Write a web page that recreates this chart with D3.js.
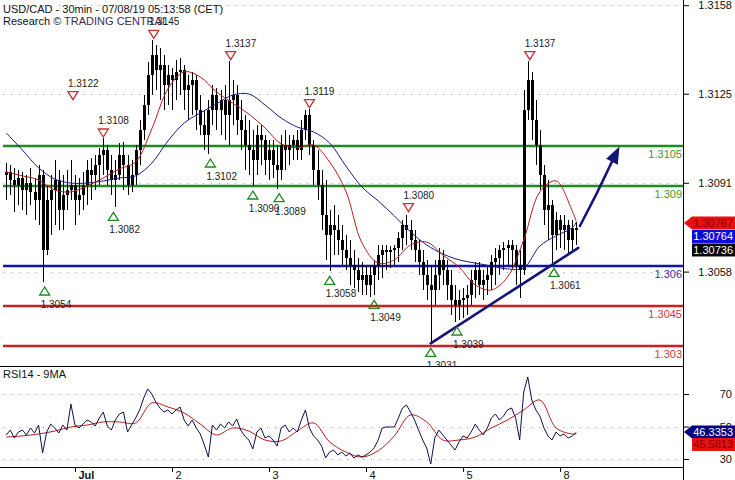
<!DOCTYPE html>
<html><head><meta charset="utf-8">
<script src="https://cdn.jsdelivr.net/npm/d3@7"></script>
<style>
body{margin:0;background:#fff}
svg{display:block}
text{font-family:"Liberation Sans",Arial,sans-serif}
</style>
</head><body>
<svg id="c" width="735" height="480"></svg>
<script>
// ---------- DATA ----------
const firstHour = -17; // hours relative to Jul 1 00:00, hourly bars
const opens = [1.30941,1.30953,1.30923,1.30904,1.30930,1.30885,1.30911,1.30878,1.30848,1.30941,1.30660,1.30848,1.30885,1.30923,1.30810,1.30866,1.30885,
1.30904,1.30848,1.30866,1.30904,1.30960,1.30941,1.30979,1.31016,1.31035,1.30960,1.30923,1.30941,1.31016,1.30979,1.30904,1.30941,1.31035,1.31110,1.31204,1.31316,1.31391,1.31335,1.31354,1.31279,
1.31316,1.31298,1.31328,1.31335,1.31260,1.31279,1.31298,1.31185,1.31129,1.31091,1.31185,1.31241,1.31185,1.31223,1.31166,1.31223,1.31241,1.31148,1.31110,1.31054,1.31035,1.30998,1.31091,1.31073,
1.30998,1.31035,1.30979,1.30960,1.31054,1.31035,1.31054,1.31073,1.31035,1.31110,1.31166,1.31054,1.30960,1.30904,1.30791,1.30716,1.30754,1.30735,1.30698,1.30660,1.30630,1.30604,1.30585,1.30548,
1.30566,1.30529,1.30566,1.30604,1.30641,1.30660,1.30653,1.30660,1.30668,1.30705,1.30754,1.30735,1.30698,1.30660,1.30615,1.30566,1.30529,1.30510,1.30566,1.30623,1.30585,1.30529,1.30473,1.30454,
1.30473,1.30480,1.30491,1.30548,1.30585,1.30529,1.30548,1.30566,1.30615,1.30630,1.30660,1.30668,1.30679,1.30660,1.30604,1.30585,1.31185,1.31298,1.31148,1.31054,1.30941,1.30810,1.30829,1.30716,
1.30773,1.30735,1.30754,1.30698,1.30743];
const highs = [1.30986,1.30979,1.30968,1.30960,1.30953,1.30941,1.30968,1.30930,1.30979,1.30960,1.30904,1.30941,1.30998,1.30960,1.30941,1.30960,1.30998,
1.30941,1.30930,1.30953,1.30998,1.31005,1.31016,1.31043,1.31080,1.31054,1.31016,1.30998,1.31061,1.31065,1.31016,1.30998,1.31054,1.31148,1.31241,1.31365,1.31448,1.31429,1.31418,1.31391,1.31354,
1.31343,1.31373,1.31380,1.31354,1.31316,1.31328,1.31316,1.31241,1.31185,1.31223,1.31279,1.31268,1.31260,1.31279,1.31370,1.31298,1.31279,1.31223,1.31166,1.31148,1.31110,1.31129,1.31129,1.31091,
1.31073,1.31073,1.31054,1.31091,1.31110,1.31091,1.31091,1.31110,1.31148,1.31185,1.31190,1.31073,1.31035,1.30960,1.30923,1.30810,1.30829,1.30791,1.30754,1.30716,1.30698,1.30660,1.30630,1.30615,
1.30604,1.30604,1.30623,1.30679,1.30679,1.30679,1.30675,1.30679,1.30728,1.30773,1.30790,1.30773,1.30735,1.30698,1.30660,1.30623,1.30604,1.30623,1.30668,1.30660,1.30623,1.30585,1.30529,1.30510,
1.30518,1.30529,1.30585,1.30615,1.30615,1.30585,1.30604,1.30641,1.30668,1.30679,1.30690,1.30698,1.30698,1.30679,1.30660,1.31260,1.31370,1.31328,1.31223,1.31110,1.30979,1.30923,1.30848,1.30803,
1.30791,1.30791,1.30773,1.30773,1.30765];
const lows = [1.30848,1.30866,1.30803,1.30829,1.30810,1.30791,1.30829,1.30773,1.30754,1.30540,1.30641,1.30716,1.30754,1.30735,1.30735,1.30810,1.30848,
1.30754,1.30791,1.30810,1.30829,1.30848,1.30885,1.30904,1.30941,1.30904,1.30866,1.30820,1.30923,1.30885,1.30866,1.30878,1.30904,1.30979,1.31073,1.31166,1.31241,1.31260,1.31223,1.31185,1.31204,
1.31185,1.31223,1.31241,1.31185,1.31148,1.31166,1.31110,1.31091,1.31035,1.31020,1.31129,1.31110,1.31091,1.31073,1.31054,1.31129,1.31091,1.31035,1.30960,1.30941,1.30900,1.30941,1.30979,1.30941,
1.30923,1.30930,1.30890,1.30923,1.30960,1.30979,1.30998,1.30998,1.30998,1.31073,1.31016,1.30904,1.30848,1.30735,1.30623,1.30580,1.30641,1.30641,1.30604,1.30585,1.30529,1.30518,1.30503,1.30491,
1.30490,1.30484,1.30491,1.30548,1.30555,1.30585,1.30593,1.30604,1.30615,1.30660,1.30679,1.30660,1.30615,1.30566,1.30510,1.30473,1.30310,1.30454,1.30510,1.30529,1.30473,1.30416,1.30390,1.30398,
1.30405,1.30416,1.30454,1.30480,1.30491,1.30473,1.30491,1.30510,1.30529,1.30566,1.30585,1.30604,1.30585,1.30529,1.30480,1.30566,1.31148,1.31073,1.30979,1.30885,1.30754,1.30698,1.30610,1.30660,
1.30668,1.30660,1.30641,1.30660,1.30679];
const closes = [1.30953,1.30923,1.30904,1.30930,1.30885,1.30911,1.30878,1.30848,1.30941,1.30660,1.30848,1.30885,1.30923,1.30810,1.30866,1.30885,1.30904,
1.30848,1.30866,1.30904,1.30960,1.30941,1.30979,1.31016,1.31035,1.30960,1.30923,1.30941,1.31016,1.30979,1.30904,1.30941,1.31035,1.31110,1.31204,1.31316,1.31391,1.31335,1.31354,1.31279,1.31316,
1.31298,1.31328,1.31335,1.31260,1.31279,1.31298,1.31185,1.31129,1.31091,1.31185,1.31241,1.31185,1.31223,1.31166,1.31223,1.31241,1.31148,1.31110,1.31054,1.31035,1.30998,1.31091,1.31073,1.30998,
1.31035,1.30979,1.30960,1.31054,1.31035,1.31054,1.31073,1.31035,1.31110,1.31166,1.31054,1.30960,1.30904,1.30791,1.30716,1.30754,1.30735,1.30698,1.30660,1.30630,1.30604,1.30585,1.30548,1.30566,
1.30529,1.30566,1.30604,1.30641,1.30660,1.30653,1.30660,1.30668,1.30705,1.30754,1.30735,1.30698,1.30660,1.30615,1.30566,1.30529,1.30510,1.30566,1.30623,1.30585,1.30529,1.30473,1.30454,1.30473,
1.30480,1.30491,1.30548,1.30585,1.30529,1.30548,1.30566,1.30615,1.30630,1.30660,1.30668,1.30679,1.30660,1.30604,1.30585,1.31185,1.31298,1.31148,1.31054,1.30941,1.30810,1.30829,1.30716,1.30773,
1.30735,1.30754,1.30698,1.30743,1.30736];

const maHours = [-17,-13,-9,-5,-1,3,7,11,15,19,23,27,31,35,39,43,47,51,55,59,63,67,71,75,79,83,87,91,95,99,103,107,111,115,119,123,124];
const maFast = [1.30953,1.30938,1.30923,1.30885,1.30878,1.30900,1.30930,1.30964,1.30990,1.31114,1.31264,1.31328,1.31309,1.31253,1.31211,1.31170,1.31118,1.31058,1.31043,1.31054,1.30990,1.30881,1.30686,1.30611,1.30623,1.30679,1.30690,1.30641,1.30596,1.30529,1.30510,1.30559,1.30698,1.30878,1.30919,1.30806,1.30767];
const maSlow = [1.31099,1.31035,1.30968,1.30926,1.30911,1.30911,1.30919,1.30930,1.30938,1.30986,1.31069,1.31136,1.31174,1.31208,1.31241,1.31245,1.31204,1.31155,1.31121,1.31103,1.31061,1.30975,1.30896,1.30844,1.30788,1.30728,1.30679,1.30645,1.30623,1.30611,1.30600,1.30589,1.30593,1.30675,1.30713,1.30743,1.30764];

const rsi = [44.8,47.8,42.9,46.6,47.8,44.8,49.1,46,50.9,33.7,46.6,51.5,49.1,46,50.9,47.8,63.8,
50.9,49.1,51.5,54,52.8,50.3,55.2,58.9,50.3,47.8,54,57.7,58.9,46.6,50.9,55.2,60.2,67.5,73.1,70,65.1,61.4,58.9,60.2,
57.7,60.2,62,54,50.3,54,49.1,45.4,38.6,31.2,50.9,47.8,51.5,49.1,52.8,50.3,54.6,47.8,44.2,41.7,36.2,46.6,49.1,42.9,
44.2,41.7,38,49.1,50.9,46.6,49.1,46.6,54,60.2,49.1,44.2,41.7,38,30.6,34.3,35.5,32.5,34.3,31.8,33.7,30.6,32.5,31.2,
32.5,34.3,36.8,41.7,49.1,49.7,49.7,49.7,55.2,61.4,63.2,58.9,54,47.8,41.7,36.8,26.9,42.9,47.8,44.8,41.7,38.6,35.5,40.5,
44.2,42.9,46.6,51.5,47.8,44.8,49.1,55.2,57.7,54,56.5,60.2,61.4,55.2,41.7,71.2,80.5,66.3,60.2,56.5,49.1,44.2,41.7,46.6,
44.2,45.4,42.9,44.2,46.3353];
const rsiMA = [43.5,44.2,45.4,47.2,49.7,50.9,52.8,52.8,52.2,64.5,62,58.3,51.5,44.8,49.1,47.2,41.7,41.1,47.2,52.2,40.5,34.3,31.2,35.1,44.2,57.1,52.8,41.7,41.7,43.5,49.1,54,60.2,66.3,49.1,45.4,45.5813];

const levelValues = [1.3105, 1.309, 1.306, 1.3045, 1.303];
const levelLabels = ["1.3105", "1.309", "1.306", "1.3045", "1.303"];
const levelKinds  = ["res", "res", "piv", "sup", "sup"];

const priceTicks = [1.31578, 1.31246, 1.30912, 1.30579];
const rsiTicks = [70, 50, 30];
const dayTicks = [0, 24, 48, 72, 96, 120];
const dayLabels = ["Jul", "2", "3", "4", "5", "8"];

const pivotHighHours  = [-0.5, 7, 19.5, 38.5, 58, 82.5, 112.5];
const pivotHighValues = [1.3122, 1.3108, 1.3145, 1.3137, 1.3119, 1.3080, 1.3137];
const pivotLowHours   = [-7.5, 9.5, 33.5, 44, 50.5, 63, 74, 88, 94.5, 118.5];
const pivotLowValues  = [1.3054, 1.3082, 1.3102, 1.3090, 1.3089, 1.3058, 1.3049, 1.3031, 1.3039, 1.3061];

const trendHours  = [88, 124.5];
const trendValues = [1.3031, 1.30668];
const arrowHours  = [124.9, 134.7];
const arrowValues = [1.30750, 1.31048];

const titleText = "USD/CAD - 30min - 07/08/19 05:13:58 (CET)";

// ---------- SCALES ----------
const svg = d3.select("#c");
const AX = 683;
const x = d3.scaleLinear().domain([-17.8, 150.4]).range([3, AX]);
const y = d3.scaleLinear().domain([1.303, 1.3105]).range([346, 146]);
const yr = d3.scaleLinear().domain([30, 70]).range([459, 394]);
const fmt4 = d3.format(".4f");

const defs = svg.append("defs");
defs.append("clipPath").attr("id","cp").append("rect").attr("x",0).attr("y",0).attr("width",AX).attr("height",366);
defs.append("clipPath").attr("id","cr").append("rect").attr("x",0).attr("y",366).attr("width",AX).attr("height",101);

const levelColor = {res:"#1f8c1f", piv:"#1212b0", sup:"#cc1f1f"};
const levelText  = {res:"#3a9a3a", piv:"#3030b0", sup:"#d03a3a"};

// ---------- GRID ----------
const grid = svg.append("g");
grid.selectAll("line.pg").data(priceTicks).join("line")
  .attr("x1",3).attr("x2",AX).attr("y1",d=>Math.round(y(d))+0.5).attr("y2",d=>Math.round(y(d))+0.5)
  .attr("stroke","#aaa").attr("stroke-dasharray","1,7");
grid.selectAll("line.rg").data(rsiTicks).join("line")
  .attr("x1",3).attr("x2",AX).attr("y1",d=>Math.round(yr(d))+0.5).attr("y2",d=>Math.round(yr(d))+0.5)
  .attr("stroke","#aaa").attr("stroke-dasharray","1,7");

// ---------- TITLE ----------
svg.append("text").attr("x",3).attr("y",12.5).attr("font-size",11).attr("fill","#111").text(titleText);
const t2 = svg.append("text").attr("x",3).attr("y",25).attr("font-size",11).attr("fill","#111");
t2.append("tspan").text("Research © ");
t2.append("tspan").attr("fill","#4a1f5c").text("TRADING CENTRAL");

// ---------- LEVEL LINES ----------
const lv = svg.append("g");
levelValues.forEach((v,i)=>{
  lv.append("line").attr("x1",3).attr("x2",AX).attr("y1",y(v)).attr("y2",y(v))
    .attr("stroke",levelColor[levelKinds[i]]).attr("stroke-width",2.5);
  lv.append("text").attr("x",AX-1).attr("y",y(v)+12).attr("text-anchor","end")
    .attr("font-size",11).attr("fill",levelText[levelKinds[i]]).text(levelLabels[i]);
});

// ---------- CANDLES ----------
const bars = closes.map((c,i)=>({h:firstHour+i,o:opens[i],hi:highs[i],lo:lows[i],c:c}));
const cg = svg.append("g").attr("clip-path","url(#cp)").attr("shape-rendering","crispEdges");
cg.selectAll("line.w").data(bars).join("line")
  .attr("x1",d=>Math.round(x(d.h))+0.5).attr("x2",d=>Math.round(x(d.h))+0.5)
  .attr("y1",d=>y(Math.max(d.hi,d.o,d.c))).attr("y2",d=>y(Math.min(d.lo,d.o,d.c)))
  .attr("stroke","#000").attr("stroke-width",1);
cg.selectAll("rect.b").data(bars).join("rect")
  .attr("x",d=>Math.round(x(d.h))-1).attr("width",3)
  .attr("y",d=>y(Math.max(d.o,d.c)))
  .attr("height",d=>Math.max(1,Math.abs(y(d.o)-y(d.c))))
  .attr("fill","#000");

// ---------- MOVING AVERAGES ----------
const maPts = (arr)=>arr.map((v,i)=>[maHours[i],v]);
const lineP = d3.line().x(d=>x(d[0])).y(d=>y(d[1])).curve(d3.curveCatmullRom);
const mg = svg.append("g").attr("clip-path","url(#cp)");
mg.append("path").attr("d",lineP(maPts(maSlow))).attr("fill","none").attr("stroke","#1a1a8c").attr("stroke-width",1);
mg.append("path").attr("d",lineP(maPts(maFast))).attr("fill","none").attr("stroke","#b81c1c").attr("stroke-width",1);

// ---------- TREND LINE + ARROW ----------
const ag = svg.append("g");
ag.append("line").attr("x1",x(trendHours[0])).attr("y1",y(trendValues[0]))
  .attr("x2",x(trendHours[1])).attr("y2",y(trendValues[1]))
  .attr("stroke","#14147a").attr("stroke-width",2.6).attr("stroke-linecap","round");
{
  const x0=x(arrowHours[0]), y0=y(arrowValues[0]), x1=x(arrowHours[1]), y1=y(arrowValues[1]);
  const dx=x1-x0, dy=y1-y0, L=Math.hypot(dx,dy), ux=dx/L, uy=dy/L;
  const hl=17, hw=6.5;
  const bx=x1-ux*hl, by=y1-uy*hl;
  ag.append("path").attr("d",`M${x0},${y0} Q${x0+dx*0.4-uy*1},${y0+dy*0.4+ux*1} ${bx},${by}`)
    .attr("fill","none").attr("stroke","#14147a").attr("stroke-width",2.6).attr("stroke-linecap","round");
  ag.append("path").attr("d",`M${x1},${y1} L${bx-uy*hw},${by+ux*hw} L${bx+uy*hw},${by-ux*hw} Z`)
    .attr("fill","#14147a");
}

// ---------- PIVOTS ----------
const pg = svg.append("g").attr("clip-path","url(#cp)");
pivotHighHours.forEach((h,i)=>{
  const px=x(h), py=y(pivotHighValues[i])-1;
  pg.append("path").attr("d",`M${px},${py} L${px-5},${py-8} L${px+5},${py-8} Z`)
    .attr("fill","none").attr("stroke","#c83232").attr("stroke-width",1.3);
  pg.append("text").attr("x",px-5).attr("y",py-13).attr("font-size",10).attr("fill","#222").text(fmt4(pivotHighValues[i]));
});
pivotLowHours.forEach((h,i)=>{
  const px=x(h), py=y(pivotLowValues[i])+5;
  pg.append("path").attr("d",`M${px},${py} L${px-5},${py+8} L${px+5},${py+8} Z`)
    .attr("fill","none").attr("stroke","#208a20").attr("stroke-width",1.3);
  pg.append("text").attr("x",px-4).attr("y",py+21).attr("font-size",10).attr("fill","#222").text(fmt4(pivotLowValues[i]));
});

// ---------- RSI PANEL ----------
const rg = svg.append("g").attr("clip-path","url(#cr)");
const lineR = d3.line().x(d=>x(d[0])).y(d=>yr(d[1]));
rg.append("path").attr("d",lineR.curve(d3.curveCatmullRom)(rsiMA.map((v,i)=>[maHours[i],v])))
  .attr("fill","none").attr("stroke","#b81c1c").attr("stroke-width",1);
rg.append("path").attr("d",lineR.curve(d3.curveLinear)(rsi.map((v,i)=>[firstHour+i,v])))
  .attr("fill","none").attr("stroke","#10104a").attr("stroke-width",1);
svg.append("text").attr("x",3).attr("y",378).attr("font-size",11).attr("fill","#111").text("RSI14 - 9MA");

// ---------- FRAME ----------
svg.append("line").attr("x1",0).attr("x2",AX).attr("y1",366.5).attr("y2",366.5).attr("stroke","#000");
svg.append("line").attr("x1",0).attr("x2",AX).attr("y1",467.5).attr("y2",467.5).attr("stroke","#000");
svg.append("line").attr("x1",AX+0.5).attr("x2",AX+0.5).attr("y1",0).attr("y2",480).attr("stroke","#000");

// ---------- AXES ----------
const ya = svg.append("g").attr("transform",`translate(${AX},0)`)
  .call(d3.axisRight(y).tickValues(priceTicks).tickSize(6).tickFormat(fmt4));
ya.select(".domain").remove();
ya.selectAll("text").attr("x",49).attr("text-anchor","end").attr("font-size",11).attr("fill","#111").attr("font-family","Liberation Sans, Arial, sans-serif");
const ra = svg.append("g").attr("transform",`translate(${AX},0)`)
  .call(d3.axisRight(yr).tickValues(rsiTicks).tickSize(6));
ra.select(".domain").remove();
ra.selectAll("text").attr("x",49).attr("text-anchor","end").attr("font-size",11).attr("fill","#111").attr("font-family","Liberation Sans, Arial, sans-serif");
const xa = svg.append("g").attr("transform","translate(0,467)")
  .call(d3.axisBottom(x).tickValues(dayTicks).tickSize(5).tickFormat((d,i)=>dayLabels[i]));
xa.select(".domain").remove();
xa.selectAll("text").attr("x",3).attr("y",4).attr("dy","0.72em").attr("text-anchor","start")
  .attr("font-size",11).attr("fill","#111").attr("font-family","Liberation Sans, Arial, sans-serif")
  .attr("font-weight",(d,i)=>i===0?"bold":"normal");

// ---------- LAST VALUE TAGS ----------
function tag(fill, txt, txtColor, arrow, top){
  const g = svg.append("g");
  const h = 13, x0 = AX+1, xb = AX+9, x2 = 735;
  if(arrow){
    g.append("path").attr("d",`M${x0},${top+h/2} L${xb},${top} L${x2},${top} L${x2},${top+h} L${xb},${top+h} Z`).attr("fill",fill);
  } else {
    g.append("rect").attr("x",xb).attr("y",top).attr("width",x2-xb).attr("height",h).attr("fill",fill);
  }
  g.append("text").attr("x",x2-2).attr("y",top+h-2.5).attr("text-anchor","end").attr("font-size",11).attr("fill",txtColor).text(txt);
}
const lastFast = maFast[maFast.length-1], lastSlow = maSlow[maSlow.length-1], lastClose = closes[closes.length-1];
const tTop = y(lastFast)-5;
tag("#e81010", d3.format(".5f")(lastFast), "#8a0000", true, tTop);
tag("#0c0cd8", d3.format(".5f")(lastSlow), "#fff", false, tTop+13.5);
tag("#000", d3.format(".5f")(lastClose), "#fff", false, tTop+27);
const lastR = rsi[rsi.length-1], lastRM = rsiMA[rsiMA.length-1];
const rTop = yr(lastR)-7;
tag("#000080", d3.format(".4f")(lastR), "#fff", true, rTop);
tag("#e81010", d3.format(".4f")(lastRM), "#8a0000", false, rTop+12.5);
</script>
</body></html>
